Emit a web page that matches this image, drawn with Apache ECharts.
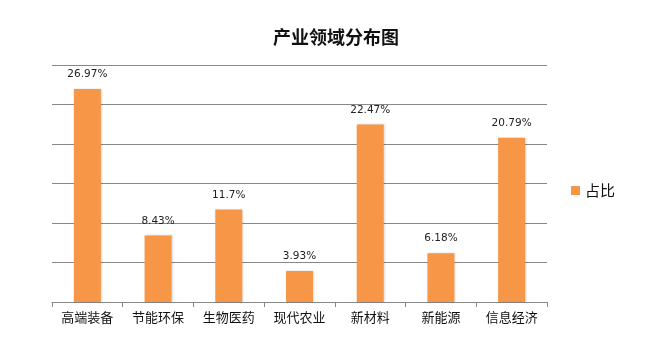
<!DOCTYPE html>
<html><head><meta charset="utf-8">
<script src="https://cdn.jsdelivr.net/npm/echarts@6/dist/echarts.min.js"></script>
<style>html,body{margin:0;padding:0;background:#fff}#c{width:658px;height:353px}</style>
</head><body><div id="c"></div>
<script>
const categories = ['高端装备','节能环保','生物医药','现代农业','新材料','新能源','信息经济'];
const values = [26.97, 8.43, 11.7, 3.93, 22.47, 6.18, 20.79];
const seriesName = '占比';
const chartTitle = '产业领域分布图';

const chart = echarts.init(document.getElementById('c'));
chart.setOption({
  animation: false,
  backgroundColor: '#fff',
  title: {
    text: chartTitle, left: 268, top: 23,
    textStyle: { fontFamily: 'Noto Sans CJK SC', fontSize: 18, fontWeight: 'bold', color: '#111' }
  },
  legend: {
    data: [seriesName], orient: 'vertical', left: 566, top: 178, icon: 'rect',
    itemWidth: 9, itemHeight: 9, itemGap: 6,
    textStyle: { fontFamily: 'Noto Sans CJK SC', fontSize: 15, color: '#111' }
  },
  grid: { left: 52, right: 111, top: 65, bottom: 51 },
  xAxis: {
    type: 'category', data: categories,
    axisLine: { lineStyle: { color: '#888' } },
    axisTick: { show: true, length: 5, lineStyle: { color: '#888' } },
    axisLabel: { fontFamily: 'Noto Sans CJK SC', fontSize: 13, color: '#111', margin: 9 }
  },
  yAxis: {
    type: 'value', min: 0, max: 30, interval: 5,
    axisLine: { show: false }, axisTick: { show: false }, axisLabel: { show: false },
    splitLine: { lineStyle: { color: '#888', width: 1 } }
  },
  series: [{
    name: seriesName, type: 'bar', data: values, barWidth: 27,
    itemStyle: { color: '#F79646', shadowColor: 'rgba(0,0,0,0.15)', shadowBlur: 2, shadowOffsetX: 1 },
    label: {
      show: true, position: 'top', distance: 9,
      formatter: p => p.value + '%',
      fontFamily: 'DejaVu Sans', fontSize: 10.5, color: '#222'
    }
  }]
});
</script></body></html>
